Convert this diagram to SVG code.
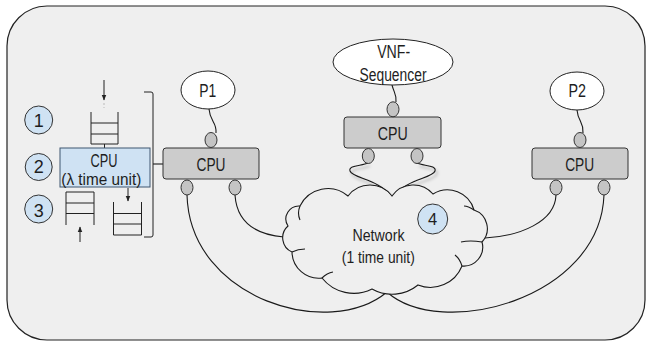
<svg xmlns="http://www.w3.org/2000/svg" width="647" height="342" viewBox="0 0 647 342">
<style>
  .t { font-family: "Liberation Sans", Arial, sans-serif; fill: #1e1e1e; text-anchor: middle; }
  .ln { fill: none; stroke: #1a1a1a; stroke-width: 1.1; }
  .box { fill: #cccccc; stroke: #333; stroke-width: 1; }
  .port { fill: #c4c4c4; stroke: #333; stroke-width: 1; }
  .ell { fill: #ffffff; stroke: #222; stroke-width: 1; }
  .num { fill: #cfe2f3; stroke: #333; stroke-width: 1; }
  .q { fill: none; stroke: #222; stroke-width: 1; }
</style>
<defs>
  <marker id="ah" viewBox="0 0 10 10" refX="9" refY="5" markerWidth="6" markerHeight="6" orient="auto">
    <path d="M0,1 L10,5 L0,9 z" fill="#222"/>
  </marker>
  <filter id="sh" x="-30%" y="-30%" width="160%" height="160%">
    <feDropShadow dx="2" dy="3" stdDeviation="1.5" flood-color="#000" flood-opacity="0.3"/>
  </filter>
</defs>

<g id="frame">
  <rect x="7" y="6" width="638" height="334" rx="40" ry="40" fill="#efefef" stroke="#222" stroke-width="1.2"/>
</g>

<g id="connectors">
  <path class="ln" d="M209,109 C210,122 217,122 216,133"/>
  <path class="ln" d="M392,85 C394,93 397,95 396,102"/>
  <path class="ln" d="M577,110 C578,122 584,122 583,133"/>
  <path class="ln" filter="url(#sh)" d="M368,163 C362,166 348,165 350,171 C352,178 380,180 391,196"/>
  <path class="ln" filter="url(#sh)" d="M417,163 C423,166 437,165 435,171 C433,178 405,180 394,196"/>
  <path class="ln" d="M235,195 C237,225 260,235 284,237"/>
  <path class="ln" d="M187,195 C190,300 330,340 387,292"/>
  <path class="ln" d="M556,195 C555,222 520,236 485,238"/>
  <path class="ln" d="M604,195 C600,300 440,340 387,292"/>
  <path class="ln" d="M153,164 H163"/>
</g>

<g id="cloud">
  <path d="M288,226 A13,13 0 0 1 300,206 A31,31 0 0 1 348,196 A27.5,27.5 0 0 1 392,196 A26,26 0 0 1 433,194 A27.5,27.5 0 0 1 474,210 A19.6,19.6 0 0 1 482,242 A19,19 0 0 1 462,266 A34,34 0 0 1 418,285 A41,41 0 0 1 372,289 A40.6,40.6 0 0 1 322,278 A26.7,26.7 0 0 1 292,252 A15.6,15.6 0 0 1 288,226 Z" fill="#efefef" stroke="#1a1a1a" stroke-width="1.1"/>
  <path class="ln" d="M300,206 Q297,213 300,220"/>
  <path class="ln" d="M482,242 Q470,240 461,242"/>
  <path class="ln" d="M462,266 Q460,259 455,255"/>
  <path class="ln" d="M322,278 Q327,273 333,272"/>
  <path class="ln" d="M292,252 Q298,249 305,249"/>
  <path class="ln" d="M474,210 Q468,206 464,206"/>
  <text class="t" x="378.5" y="241.3" font-size="16.5" textLength="52" lengthAdjust="spacingAndGlyphs">Network</text>
  <text class="t" x="378.3" y="263" font-size="16.5" textLength="73" lengthAdjust="spacingAndGlyphs">(1 time unit)</text>
</g>

<g id="step4">
  <circle class="num" cx="432.7" cy="219" r="15"/>
  <text class="t" x="432.7" y="225" font-size="16.5">4</text>
</g>

<g id="p1">
  <ellipse class="ell" cx="208" cy="90" rx="27" ry="19"/>
  <text class="t" x="207.7" y="96.7" font-size="17.5" textLength="17" lengthAdjust="spacingAndGlyphs">P1</text>
</g>

<g id="vnf-sequencer">
  <ellipse class="ell" cx="393" cy="62" rx="60" ry="23"/>
  <text class="t" x="393.7" y="58.3" font-size="17.5" textLength="33" lengthAdjust="spacingAndGlyphs">VNF-</text>
  <text class="t" x="393" y="80.5" font-size="17.5" textLength="67" lengthAdjust="spacingAndGlyphs">Sequencer</text>
</g>

<g id="p2">
  <ellipse class="ell" cx="577" cy="91" rx="27" ry="19"/>
  <text class="t" x="577.2" y="96.7" font-size="17.5" textLength="17.5" lengthAdjust="spacingAndGlyphs">P2</text>
</g>

<g id="cpu-left">
  <rect class="box" x="163" y="148" width="96" height="31" rx="3"/>
  <ellipse class="port" cx="211" cy="140" rx="6" ry="7.5"/>
  <ellipse class="port" cx="187" cy="187.5" rx="6" ry="7.5"/>
  <ellipse class="port" cx="235" cy="187.5" rx="6" ry="7.5"/>
  <text class="t" x="211" y="171" font-size="18" textLength="29" lengthAdjust="spacingAndGlyphs">CPU</text>
</g>

<g id="cpu-middle">
  <rect class="box" x="344" y="117" width="97" height="31" rx="3"/>
  <ellipse class="port" cx="393" cy="109.3" rx="6" ry="7.5"/>
  <ellipse class="port" cx="368.3" cy="156" rx="6" ry="7.5"/>
  <ellipse class="port" cx="417" cy="156" rx="6" ry="7.5"/>
  <text class="t" x="392.7" y="139.5" font-size="18" textLength="30" lengthAdjust="spacingAndGlyphs">CPU</text>
</g>

<g id="cpu-right">
  <rect class="box" x="532" y="148" width="96" height="31" rx="3"/>
  <ellipse class="port" cx="580" cy="140" rx="6" ry="7.5"/>
  <ellipse class="port" cx="556" cy="187.5" rx="6" ry="7.5"/>
  <ellipse class="port" cx="604" cy="187.5" rx="6" ry="7.5"/>
  <text class="t" x="579.7" y="171" font-size="18" textLength="29" lengthAdjust="spacingAndGlyphs">CPU</text>
</g>

<g id="cpu-detail">
  <circle class="num" cx="38.7" cy="120" r="14"/>
  <text class="t" x="38.7" y="126.7" font-size="18">1</text>
  <circle class="num" cx="38.7" cy="167" r="13.5"/>
  <text class="t" x="38.7" y="173.3" font-size="18">2</text>
  <circle class="num" cx="38.7" cy="209" r="14"/>
  <text class="t" x="38.7" y="216.7" font-size="18">3</text>
  <line class="q" x1="104" y1="80" x2="104" y2="100" marker-end="url(#ah)"/>
  <line x1="104" y1="103" x2="104" y2="108" stroke="#bbb" stroke-width="1" stroke-dasharray="2,2"/>
  <path class="q" d="M91,112 V144 H118 V112 M91,123 H118 M91,134 H118 M104.5,144 V148"/>
  <rect x="60" y="148" width="90" height="39" fill="#cfe2f3" stroke="#3f5670" stroke-width="1"/>
  <text class="t" x="104" y="167.3" font-size="18" textLength="27" lengthAdjust="spacingAndGlyphs">CPU</text>
  <text class="t" x="101.3" y="185" font-size="16.5" textLength="80" lengthAdjust="spacingAndGlyphs">(λ time unit)</text>
  <path class="q" d="M66,225 V192 H94 V225 M66,203 H94 M66,213.5 H94"/>
  <line class="q" x1="80" y1="242" x2="80" y2="227" marker-end="url(#ah)"/>
  <line class="q" x1="128" y1="188" x2="128" y2="201" marker-end="url(#ah)"/>
  <path class="q" d="M113.5,202 V235 H141.5 V202 M113.5,213.5 H141.5 M113.5,224 H141.5"/>
  <path class="q" d="M144,92 H151 Q153,92 153,94 V235 Q153,237 151,237 H144"/>
</g>
</svg>
